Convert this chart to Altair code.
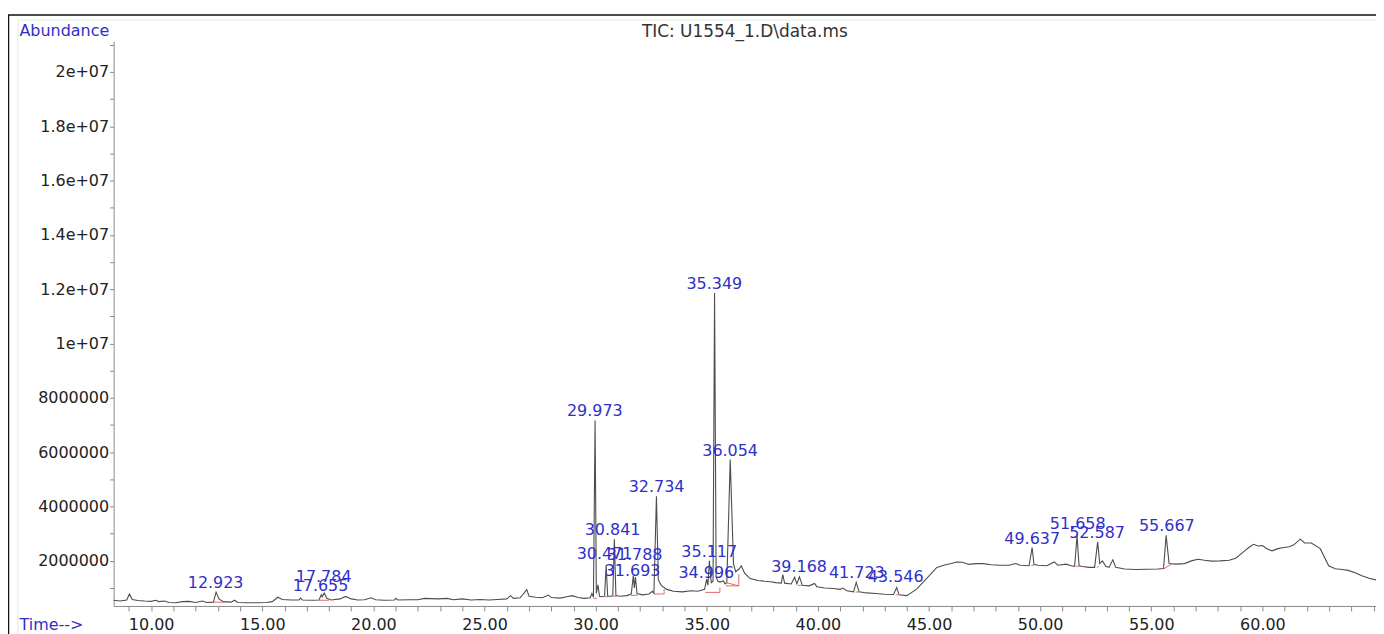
import altair as alt
import pandas as pd

# ---------------- data (abundance in millions) ----------------
trace_time = [
    8.31, 8.6, 8.9, 9.02, 9.15, 9.4, 9.7, 10.0, 10.2, 10.35, 10.6, 10.8, 11.1, 11.4, 11.7,
    12.0, 12.3, 12.5, 12.8, 12.92, 13.05, 13.25, 13.6, 13.75, 13.9, 14.3, 14.8, 15.2, 15.45,
    15.7, 15.9, 16.3, 16.65, 16.72, 16.8, 17.3, 17.55, 17.655, 17.7, 17.784, 17.9, 18.1, 18.5,
    18.75, 19.0, 19.3, 19.6, 19.9, 20.1, 20.5, 20.95, 21.0, 21.1, 21.6, 22.0, 22.3, 22.9, 23.3,
    23.6, 24.0, 24.4, 24.8, 25.2, 25.6, 26.0, 26.17, 26.3, 26.6, 26.9, 27.0, 27.3, 27.6, 27.88,
    28.0, 28.4, 28.7, 28.95, 29.2, 29.5, 29.75, 29.83, 29.9, 29.973, 30.03, 30.1, 30.17, 30.3,
    30.4, 30.471, 30.54, 30.7, 30.77, 30.841, 30.91, 31.1, 31.4, 31.6, 31.693, 31.74, 31.788,
    31.86, 32.1, 32.4, 32.55, 32.62, 32.734, 32.82, 32.95, 33.2, 33.5, 33.9, 34.3, 34.6, 34.9,
    34.996, 35.05, 35.117, 35.2, 35.28, 35.349, 35.42, 35.5, 35.6, 35.68, 35.75, 35.82, 35.9,
    36.054, 36.2, 36.3, 36.45, 36.55, 36.7, 36.95, 37.3, 37.6, 37.85, 38.1, 38.35, 38.42, 38.5,
    38.8, 38.95, 39.05, 39.168, 39.3, 39.6, 39.85, 39.95, 40.3, 40.7, 41.0, 41.12, 41.3, 41.6,
    41.723, 41.85, 42.2, 42.6, 43.0, 43.4, 43.546, 43.65, 44.0, 44.44, 45.0, 45.35, 45.7, 46.0,
    46.25, 46.5, 46.8, 47.1, 47.43, 47.8, 48.2, 48.6, 48.9, 49.1, 49.5, 49.637, 49.72, 49.9,
    50.3, 50.63, 50.8, 51.17, 51.4, 51.55, 51.658, 51.75, 51.9, 52.2, 52.45, 52.587, 52.68,
    52.8, 52.95, 53.1, 53.27, 53.4, 53.8, 54.3, 54.8, 55.3, 55.55, 55.667, 55.8, 56.1, 56.5,
    56.8, 57.1, 57.4, 57.7, 58.1, 58.5, 58.8, 59.15, 59.4, 59.6, 59.8, 60.0, 60.2, 60.43, 60.7,
    60.9, 61.2, 61.4, 61.7, 61.9, 62.2, 62.6, 62.98, 63.28, 63.6, 63.86, 64.2, 64.47, 64.8, 65.11,
]
trace_abund = [
    0.55, 0.52, 0.56, 0.78, 0.58, 0.54, 0.52, 0.51, 0.55, 0.50, 0.52, 0.47, 0.46, 0.50, 0.51,
    0.47, 0.52, 0.47, 0.48, 0.85, 0.60, 0.50, 0.48, 0.55, 0.47, 0.46, 0.46, 0.47, 0.50,
    0.66, 0.58, 0.56, 0.56, 0.63, 0.56, 0.55, 0.56, 0.75, 0.68, 0.82, 0.62, 0.56, 0.60,
    0.69, 0.60, 0.56, 0.57, 0.64, 0.57, 0.55, 0.56, 0.62, 0.56, 0.57, 0.57, 0.62, 0.60, 0.62,
    0.57, 0.60, 0.56, 0.58, 0.56, 0.58, 0.60, 0.72, 0.62, 0.64, 0.94, 0.70, 0.66, 0.64, 0.74,
    0.65, 0.63, 0.68, 0.72, 0.65, 0.62, 0.64, 0.80, 0.66, 7.17, 0.80, 1.12, 0.70, 0.68,
    0.70, 1.85, 0.70, 0.70, 0.72, 2.80, 0.72, 0.70, 0.72, 0.78, 1.45, 1.00, 1.40,
    0.80, 0.75, 0.78, 0.88, 0.80, 4.38, 1.30, 1.10, 0.95, 0.88, 0.86, 0.90, 0.88, 0.95,
    1.33, 1.10, 2.00, 1.20, 1.25, 11.86, 1.40, 1.25, 1.22, 1.25, 1.26, 1.15, 1.20,
    5.73, 1.90, 1.60, 1.70, 1.82, 1.55, 1.35, 1.28, 1.25, 1.23, 1.20, 1.18, 1.49, 1.18,
    1.15, 1.40, 1.15, 1.41, 1.10, 1.08, 1.17, 1.05, 1.00, 0.98, 0.95, 1.00, 0.90, 0.86,
    1.21, 0.86, 0.82, 0.80, 0.77, 0.76, 1.02, 0.75, 0.72, 0.96, 1.45, 1.76, 1.85, 1.90,
    1.96, 1.95, 1.87, 1.90, 1.90, 1.86, 1.84, 1.84, 1.90, 1.84, 1.82, 2.49, 1.87, 1.84,
    1.82, 1.96, 1.84, 1.88, 1.82, 1.80, 2.92, 1.82, 1.79, 1.76, 1.76, 2.70, 1.90,
    2.00, 1.80, 1.76, 2.04, 1.76, 1.70, 1.68, 1.69, 1.70, 1.72, 2.94, 1.90, 1.88, 1.90,
    2.00, 2.06, 2.02, 1.99, 2.00, 2.02, 2.10, 2.33, 2.50, 2.61, 2.55, 2.56, 2.45, 2.37, 2.45,
    2.48, 2.52, 2.58, 2.80, 2.66, 2.66, 2.45, 1.82, 1.71, 1.68, 1.65, 1.55, 1.45, 1.36, 1.30,
]

peak_labels = ["12.923", "17.784", "17.655", "29.973", "30.841", "30.471", "31.788", "31.693",
               "32.734", "35.117", "34.996", "35.349", "36.054", "39.168", "41.723", "43.546",
               "49.637", "51.658", "52.587", "55.667"]
label_time = [12.9, 17.76, 17.62, 29.96, 30.76, 30.4, 31.75, 31.66,
              32.74, 35.11, 34.98, 35.34, 36.05, 39.15, 41.75, 43.5,
              49.64, 51.69, 52.56, 55.7]
label_abund = [1.18, 1.40, 1.07, 7.52, 3.13, 2.24, 2.22, 1.63,
               4.71, 2.34, 1.54, 12.21, 6.06, 1.78, 1.55, 1.39,
               2.80, 3.37, 3.04, 3.28]

# integration baselines (red): start time/abundance, end time/abundance
base_t1 = [12.8, 17.55, 29.9, 30.42, 30.78, 31.6, 32.63, 33.08, 34.93, 35.59, 35.86, 36.44, 36.44,
           39.1, 41.68, 43.5, 49.6, 51.62, 52.55, 55.55]
base_v1 = [0.48, 0.55, 0.62, 0.68, 0.70, 0.72, 0.78, 0.78, 0.84, 0.84, 1.08, 1.08, 1.08,
           1.10, 0.85, 0.75, 1.83, 1.80, 1.76, 1.70]
base_t2 = [13.3, 18.0, 30.05, 30.55, 30.95, 31.9, 33.08, 33.08, 35.59, 35.59, 36.44, 36.44, 35.86,
           39.3, 41.85, 43.62, 49.75, 51.75, 52.65, 55.95]
base_v2 = [0.48, 0.55, 0.62, 0.68, 0.70, 0.74, 0.78, 0.96, 0.84, 1.02, 1.08, 1.51, 1.20,
           1.10, 0.86, 0.75, 1.85, 1.80, 1.80, 1.90]

chart_title = "TIC: U1554_1.D\\data.ms"

# ---------------- styling ----------------
BLUE = "#3030c8"
FONT = "DejaVu Sans"
X_DOMAIN = [8.31, 65.11]
Y_DOMAIN = [0.34, 21.14]
x_ticks = list(range(9, 66))
y_ticks = list(range(1, 22))

trace_df = pd.DataFrame({"time": trace_time, "abund": trace_abund})
label_df = pd.DataFrame({"time": label_time, "abund": label_abund, "label": peak_labels})
base_df = pd.DataFrame({"time": base_t1, "abund": base_v1, "time2": base_t2, "abund2": base_v2})

x_scale = alt.Scale(domain=X_DOMAIN, nice=False, zero=False)
y_scale = alt.Scale(domain=Y_DOMAIN, nice=False, zero=False)

x_axis = alt.Axis(
    values=x_ticks,
    labelExpr="(datum.value % 5 === 0 && datum.value < 65) ? format(datum.value, '.2f') : ''",
    labelOverlap=False, labelFlush=False,
    grid=False, domainColor="#8a8a8a", tickColor="#8a8a8a", tickSize=5,
    labelFont=FONT, labelFontSize=16, labelColor="#222222",
    labelBaseline="middle", labelPadding=14,
    title="Time-->", titleColor=BLUE, titleFont=FONT, titleFontSize=16,
    titleFontWeight="normal", titleAngle=0, titleAlign="left", titleBaseline="middle",
    titleX=-95, titleY=19,
)
y_axis = alt.Axis(
    values=y_ticks,
    labelExpr="datum.value % 2 !== 0 ? '' : (datum.value >= 10 ? (datum.value / 10) + 'e+07' : format(datum.value * 1000000, 'd'))",
    labelOverlap=False, labelFlush=False,
    grid=False, domainColor="#8a8a8a", tickColor="#8a8a8a", tickSize=4,
    labelFont=FONT, labelFontSize=16, labelColor="#222222", labelPadding=1,
    title="Abundance", titleColor=BLUE, titleFont=FONT, titleFontSize=16,
    titleFontWeight="normal", titleAngle=0, titleAlign="left", titleBaseline="middle",
    titleX=-95, titleY=-11,
)

trace = alt.Chart(trace_df).mark_line(color="#4d4d4d", strokeWidth=1.1).encode(
    x=alt.X("time:Q", scale=x_scale, axis=x_axis),
    y=alt.Y("abund:Q", scale=y_scale, axis=y_axis),
)

baselines = alt.Chart(base_df).mark_rule(color="#e06b6b", strokeWidth=1).encode(
    x=alt.X("time:Q", scale=x_scale, axis=x_axis),
    x2="time2:Q",
    y=alt.Y("abund:Q", scale=y_scale, axis=y_axis),
    y2="abund2:Q",
)

labels = alt.Chart(label_df).mark_text(
    font=FONT, fontSize=16, color=BLUE, align="center", baseline="middle"
).encode(
    x=alt.X("time:Q", scale=x_scale, axis=x_axis),
    y=alt.Y("abund:Q", scale=y_scale, axis=y_axis),
    text="label:N",
)

one = alt.Data(values=[{}])
title_text = alt.Chart(one).mark_text(
    font=FONT, fontSize=17, color="#333333", align="center", baseline="middle"
).encode(x=alt.value(633.5), y=alt.value(-9), text=alt.value(chart_title))
frame_top = alt.Chart(one).mark_rule(color="#111111", strokeWidth=1.5).encode(
    x=alt.value(-106), x2=alt.value(1270), y=alt.value(-26))
frame_left = alt.Chart(one).mark_rule(color="#111111", strokeWidth=1.5).encode(
    x=alt.value(-105.5), y=alt.value(-26), y2=alt.value(600))
inner_top = alt.Chart(one).mark_rule(color="#dcefdc", strokeWidth=1).encode(
    x=alt.value(-96), x2=alt.value(1270), y=alt.value(-21))
inner_left = alt.Chart(one).mark_rule(color="#dcefdc", strokeWidth=1).encode(
    x=alt.value(-96), y=alt.value(-21), y2=alt.value(600))

chart = alt.layer(
    trace, baselines, labels, title_text, frame_top, frame_left, inner_top, inner_left
).properties(
    width=1267,
    height=567,
    autosize=alt.AutoSizeParams(type="none"),
    padding={"left": 106, "top": 32, "right": 0, "bottom": 27},
).configure_view(stroke=None)

chart.save("out.html", embed_options={"renderer": "svg", "actions": False})
